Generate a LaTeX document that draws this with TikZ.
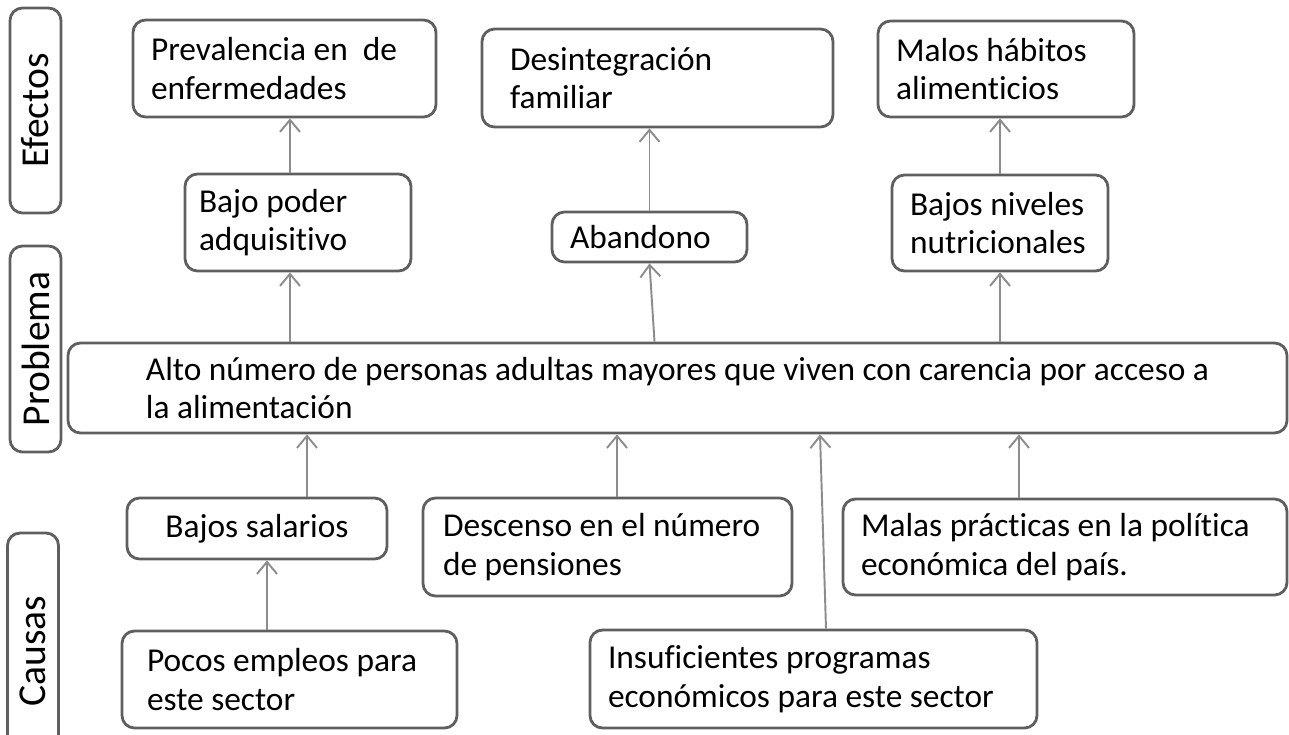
\documentclass[tikz,border=0pt]{standalone}
\usepackage{fontspec}
\setmainfont{Carlito}[Ligatures=NoCommon]
\usetikzlibrary{arrows.meta}
\definecolor{boxline}{RGB}{95,95,95}
\definecolor{arrowgray}{RGB}{140,140,140}

\begin{document}
\begin{tikzpicture}
\tikzstyle{every node}+=[inner ysep=0pt]
\tikzstyle{box}=[draw=boxline, line width=1.6pt, rounded corners=2.5mm, align=flush left, inner xsep=0.36cm, font=\fontsize{19}{22}\selectfont]
\tikzstyle{side}=[box, rotate=90, align=flush center, minimum height=1.02cm, font=\fontsize{22.5}{26}\selectfont]
\tikzstyle{arr}=[draw=arrowgray, line width=1.1pt, -{Straight Barb[length=2.4mm,width=4mm]}]
\useasboundingbox (0,0) rectangle (25.78,-14.68);
\node[side, minimum width=4.1cm] (efectos) at (0.71,-2.21) {Efectos};
\node[side, minimum width=4.12cm] (problema) at (0.71,-6.98) {Problema};
\node[side, minimum width=4.72cm] (causas) at (0.66,-13.02) {Causas};
\node[box, text width=5.34cm, minimum height=1.94cm] (prev) at (5.69,-1.37) {Prevalencia en~ de\\enfermedades};
\node[box, inner xsep=0.56cm, text width=5.9cm, minimum height=1.96cm] (desint) at (13.15,-1.56) {Desintegración\\familiar};
\node[box, text width=4.4cm, minimum height=1.92cm] (malos) at (20.12,-1.38) {Malos hábitos\\alimenticios};
\node[box, inner xsep=0.28cm, text width=3.96cm, minimum height=1.94cm] (bajopoder) at (5.96,-4.45) {Bajo poder\\adquisitivo};
\node[box, text width=3.18cm, minimum height=1cm] (abandono) at (12.99,-4.74) {Abandono};
\node[box, text width=3.6cm, minimum height=1.92cm] (bajosniv) at (20.0,-4.46) {Bajos niveles\\nutricionales};
\node[box, minimum width=24.38cm, minimum height=1.8cm] (prob) at (13.55,-7.76) {Alto número de personas adultas mayores que viven con carencia por acceso a\\la alimentación};
\node[box, align=flush center, text width=4.48cm, minimum height=1.22cm] (salarios) at (5.14,-10.57) {Bajos salarios};
\node[box, inner xsep=0.4cm, text width=6.58cm, minimum height=1.96cm] (descenso) at (12.15,-10.94) {Descenso en el número\\de pensiones};
\node[box, text width=8.16cm, minimum height=1.92cm] (malas) at (21.3,-10.94) {Malas prácticas en la política\\económica del país.};
\node[box, inner xsep=0.5cm, text width=5.7cm, minimum height=1.94cm] (pocos) at (5.79,-13.59) {Pocos empleos para\\este sector};
\node[box, text width=8.22cm, minimum height=1.96cm] (insuf) at (16.27,-13.58) {Insuficientes programas\\económicos para este sector};
\draw[arr] ([xshift=-1.6mm]bajopoder.north) -- ([xshift=-1.6mm]bajopoder.north |- prev.south);
\draw[arr] ([xshift=-1.6mm]bajopoder.south |- prob.north) -- ([xshift=-1.6mm]bajopoder.south);
\draw[arr] (abandono.north) -- (abandono.north |- desint.south);
\draw[arr] ([xshift=1mm]abandono.south |- prob.north) -- (abandono.south);
\draw[arr] (bajosniv.north) -- (bajosniv.north |- malos.south);
\draw[arr] (bajosniv.south |- prob.north) -- (bajosniv.south);
\draw[arr] ([xshift=10mm]salarios.north) -- ([xshift=10mm]salarios.north |- prob.south);
\draw[arr] ([xshift=-4.5mm]pocos.north) -- ([xshift=-4.5mm]pocos.north |- salarios.south);
\draw[arr] ([xshift=1.9mm]descenso.north) -- ([xshift=1.9mm]descenso.north |- prob.south);
\draw[arr] ([xshift=2.5mm]insuf.north) -- ([xshift=1.3mm]insuf.north |- prob.south);
\draw[arr] ([xshift=-9.2mm]malas.north) -- ([xshift=-9.2mm]malas.north |- prob.south);
\end{tikzpicture}
\end{document}
